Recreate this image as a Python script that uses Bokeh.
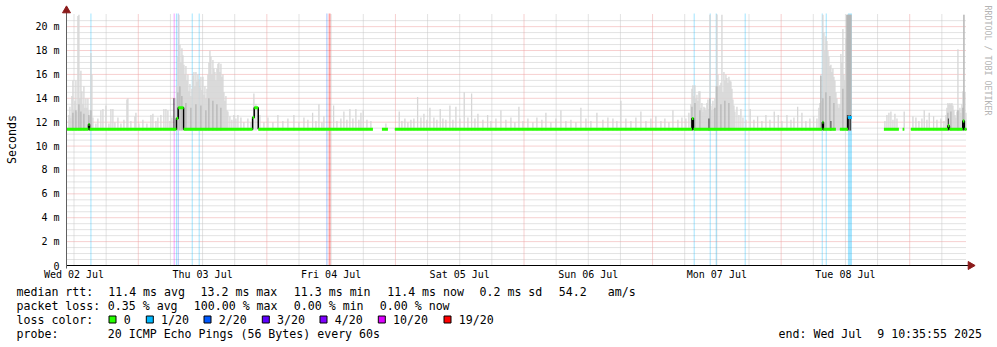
import math
from bokeh.plotting import figure
from bokeh.models import Range1d
from bokeh.core.properties import value
from bokeh.embed import file_html
from bokeh.resources import INLINE

NAN = float("nan")
MONO = value("DejaVu Sans Mono")

# ---------------- data (times in hours since Wed 02 Jul 2025 00:00) ----------------
start_h = 10.6          # Wed 02 Jul 10:36
end_h = 178.6           # Wed 09 Jul 10:36
step_h = 168 / 900      # consolidation step of the smoke samples

day_labels = ["Wed 02 Jul", "Thu 03 Jul", "Fri 04 Jul", "Sat 05 Jul", "Sun 06 Jul", "Mon 07 Jul", "Tue 08 Jul"]
label_hours = [12, 36, 60, 84, 108, 132, 156]
midnight_hours = [24, 48, 72, 96, 120, 144, 168]
y_ticks = [0, 2, 4, 6, 8, 10, 12, 14, 16, 18, 20]
y_tick_labels = ["0", "2 m", "4 m", "6 m", "8 m", "10 m", "12 m", "14 m", "16 m", "18 m", "20 m"]

# median rtt (ms) as constant segments starting at median_t
median_t = [10.6, 14.70, 14.90, 31.12, 31.45, 32.46, 45.34, 45.64, 46.39, 67.80, 69.48, 70.60, 71.90,
            127.35, 127.63, 151.70, 151.90, 154.22, 154.97, 156.46, 157.21, 163.18, 165.98, 166.67,
            166.97, 168.22, 175.13, 175.40, 177.90, 178.20]
median_v = [11.4, 11.8, 11.4, 12.3, 13.2, 11.4, 12.4, 13.2, 11.4, NAN, 11.4, NAN, 11.4,
            12.3, 11.4, 12.0, 11.4, NAN, 11.4, 12.4, NAN, 11.4, NAN, 11.4,
            NAN, 11.4, 11.7, 11.4, 12.1, 11.4]
median_loss = [0, 0, 0, 0, 0, 0, 0, 0, 0, 0, 0, 0, 0,
               0, 0, 0, 0, 0, 0, 1, 0, 0, 0, 0,
               0, 0, 0, 0, 0, 0]

# packet loss events (lost pings of 20)
loss_t = [15.16, 30.70, 31.12, 31.45, 34.07, 35.37, 59.21, 59.71, 127.77, 130.76, 131.88, 137.29, 151.67, 152.42, 156.84]
loss_n = [1, 10, 1, 2, 1, 1, 2, 19, 1, 1, 1, 1, 1, 1, 1]
loss_dur = [0.19, 0.19, 0.19, 0.19, 0.19, 0.19, 0.19, 0.37, 0.19, 0.19, 0.19, 0.19, 0.19, 0.19, 0.75]

loss_levels = ["0", "1/20", "2/20", "3/20", "4/20", "10/20", "19/20"]
loss_thresholds = [0, 1, 2, 3, 4, 10, 19]
loss_colors = ["#26ff00", "#00b8ff", "#0059ff", "#5e00ff", "#7e00ff", "#dd00ff", "#ff0000"]

# smoke: isolated samples (max ping, ms)
smoke_t = [16.09, 16.46, 17.02, 17.40, 17.96, 18.52, 18.89, 19.26, 19.64, 20.20, 20.76, 21.32, 21.88, 22.06,
           22.62, 23.37, 23.56, 24.12, 24.86, 25.61, 26.36, 26.73, 27.29, 27.66, 28.22, 28.78, 29.16, 29.53,
           29.90, 30.28,
           41.10, 41.47, 41.85, 42.22, 42.60, 43.16, 43.71, 44.46, 45.02, 45.58, 45.96, 46.70, 47.45, 48.20,
           49.13, 50.06, 50.99, 51.93, 53.05, 53.98, 54.92, 55.66, 56.54, 57.16, 57.72, 58.28, 58.65, 60.46,
           61.08, 61.82, 62.38, 62.94, 63.50, 64.06, 64.62, 65.18, 65.56, 65.99, 66.68, 67.42, 70.22, 72.71,
           73.21, 73.77, 74.33, 74.89, 75.45, 76.14, 76.76, 77.32, 77.88, 78.44, 79.18, 79.74, 80.36, 80.86,
           81.42, 82.17, 82.73, 83.29, 84.04, 84.84, 85.53, 86.22, 86.84, 87.40, 88.33, 89.21, 89.82, 90.76,
           91.69, 92.62, 93.56, 94.30, 95.05, 95.80, 96.73, 97.66, 98.41, 99.34, 100.09, 101.02, 101.96,
           102.89, 103.82, 104.76, 105.69, 106.62, 107.56, 108.49, 109.61, 110.73, 111.66, 112.60, 113.34,
           114.09, 115.02, 115.96, 116.89, 117.82, 118.76, 119.69, 120.62, 121.56, 122.30, 123.05, 123.80,
           124.73, 125.48, 126.22, 126.78,
           135.75, 136.12, 136.49, 136.87, 137.43, 138.22, 138.92, 139.61, 140.41, 141.16, 141.91, 142.71,
           143.46, 144.15, 145.08, 145.83, 146.39, 147.08, 147.88, 148.62, 149.37, 150.06, 150.68,
           163.37, 163.75, 164.12, 164.49, 164.87, 165.24, 165.62, 166.97, 168.60, 169.16, 169.72, 170.28,
           170.71, 171.21, 171.64, 172.46, 173.08, 173.82, 174.39]
smoke_top = [11.9, 12.3, 13.0, 13.1, 13.4, 11.9, 13.1, 13.1, 12.0, 12.4, 11.9, 12.2, 13.9, 14.0,
             12.1, 12.5, 12.8, 11.9, 12.2, 11.9, 12.6, 12.7, 12.1, 12.4, 12.6, 13.1, 13.1, 13.0,
             12.1, 12.4,
             12.5, 12.2, 12.6, 12.3, 12.6, 12.4, 12.0, 12.3, 12.0, 14.4, 13.5, 12.6, 12.0, 12.4,
             12.0, 12.6, 12.1, 12.3, 12.6, 12.0, 12.4, 12.2, 12.8, 12.1, 13.5, 12.0, 12.5, 13.4,
             12.1, 12.3, 12.9, 12.2, 13.1, 12.3, 13.1, 12.2, 12.8, 13.0, 12.2, 12.1, 11.9, 12.9,
             12.1, 12.3, 12.0, 12.2, 12.3, 14.1, 12.4, 12.7, 12.2, 13.2, 12.4, 12.2, 13.1, 12.3,
             12.2, 13.4, 12.2, 13.3, 12.3, 14.5, 12.4, 14.4, 12.3, 12.7, 12.2, 12.6, 12.1, 12.3,
             13.0, 12.2, 12.4, 12.0, 13.3, 12.1, 12.3, 12.0, 12.4, 12.2, 12.8, 12.0, 12.3,
             13.0, 12.1, 12.2, 12.0, 13.2, 12.3, 12.1, 12.8, 12.2, 12.4, 12.3, 12.1,
             13.8, 12.3, 12.1, 12.4, 12.9, 12.1, 12.3, 12.5, 12.1, 12.3, 12.0, 13.0,
             12.2, 12.4, 12.3, 12.8,
             13.3, 12.6, 13.1, 12.4, 12.2, 13.1, 12.2, 12.5, 12.1, 12.6, 12.2, 12.9,
             12.6, 12.1, 12.6, 12.2, 12.4, 13.3, 12.8, 12.1, 12.3, 12.5, 12.3,
             12.1, 12.6, 12.8, 12.9, 12.2, 12.7, 12.3, 12.9, 12.5, 12.4, 12.1, 12.3,
             13.0, 12.2, 12.8, 12.5, 12.2, 12.3, 12.1]

# smoke: dense bursts, one max-ping value per consolidation step
burst_wed_start = 11.05
burst_wed = [12.6, 13.3, 12.4, 14.2, 15.5, 13.0, 13.8, 15.5, 12.9, 20.9, 21.0, 14.0, 16.3, 14.6, 13.5,
             15.0, 13.2, 14.0, 13.2, 14.0, 13.0, 12.5, 17.8, 16.0, 12.4]
burst_thu_start = 30.84
burst_thu = [13.0, 14.0, 15.0, 17.5, 21.0, 18.5, 17.0, 18.2, 17.6, 16.8, 16.0, 16.7, 15.5, 16.0, 14.6,
             15.2, 14.2, 14.8, 15.9, 16.2, 15.0, 16.2, 15.4, 16.0, 15.6, 14.9, 15.8, 14.7, 15.8, 14.3,
             15.0, 14.0, 14.8, 16.0, 17.0, 18.0, 17.5, 16.0, 17.2, 16.5, 16.2, 15.5, 16.5, 16.9, 17.0,
             16.2, 16.9, 15.8, 16.0, 14.5, 13.8, 14.2, 13.0, 12.9]
burst_mon_start = 127.16
burst_mon = [13.5, 14.8, 15.1, 14.2, 15.1, 14.0, 14.3, 13.8, 14.6, 14.6, 13.2, 13.6, 12.9, 13.3, 13.2,
             13.0, 13.6, 13.9, 13.1, 21.0, 13.4, 13.0, 13.8, 13.1, 14.0, 15.0, 21.0, 16.0, 15.0, 15.1,
             15.3, 21.0, 14.5, 16.2, 15.5, 16.0, 15.7, 15.3, 15.8, 15.5, 15.4, 14.8, 13.9, 13.4, 12.9]
burst_tue_start = 151.05
burst_tue = [13.2, 13.6, 15.9, 13.8, 21.0, 19.5, 18.0, 19.2, 18.8, 18.0, 17.5, 16.7, 16.8, 16.2, 16.5,
             15.8, 15.5, 14.5, 14.0, 13.5, 13.2, 13.5, 17.7, 17.0, 19.8, 16.0, 15.5, 19.0, 21.0, 21.0,
             21.0, 21.0, 21.0]
burst_end_start = 174.76
burst_end = [12.6, 13.2, 13.6, 13.5, 13.6, 13.5, 13.6, 13.4, 13.0, 12.6, 12.4, 12.9, 18.1, 13.0, 13.2,
             12.8, 13.5, 14.6, 21.0, 14.5, 12.8]

# denser smoke (upper quartile)
mid_t = [11.80, 12.36, 12.92, 13.29, 13.85, 14.78, 15.16,
         31.40, 31.77, 32.14, 32.89, 33.82, 34.76, 35.69, 36.62, 37.18, 37.93, 38.68, 39.42,
         127.35, 127.91, 128.84, 130.70, 131.64, 132.01, 132.76, 133.50, 134.25,
         151.42, 151.80, 152.36, 153.10, 153.85, 155.53, 156.28, 156.46, 156.65, 156.84, 157.03,
         175.13, 175.69, 177.00, 177.93, 178.12]
mid_top = [12.8, 13.0, 13.5, 12.9, 12.7, 12.6, 13.0,
           14.5, 15.0, 14.2, 13.6, 13.2, 13.5, 13.4, 13.0, 14.0, 13.8, 13.5, 13.2,
           13.3, 13.6, 13.0, 14.0, 13.2, 15.0, 13.5, 13.8, 13.6,
           15.9, 14.0, 14.5, 14.2, 13.6, 14.8, 21.0, 21.0, 21.0, 21.0, 21.0,
           12.8, 12.9, 13.0, 13.2, 21.0]

# densest smoke (around the median)
dark_t = [14.87, 30.65, 127.44, 130.52, 151.89, 153.29, 156.37, 156.65, 156.93, 175.22, 178.03]
dark_top = [11.9, 14.0, 12.3, 12.3, 12.0, 12.1, 12.6, 12.6, 12.6, 12.3, 12.2]

# legend texts
stat_rtt = ["median rtt:", "11.4 ms avg", "13.2 ms max", "11.3 ms min", "11.4 ms now", "0.2 ms sd", "54.2", "am/s"]
stat_loss = ["packet loss:", "0.35 % avg", "100.00 % max", "0.00 % min", "0.00 % now"]
probe_text = ["probe:", "20 ICMP Echo Pings (56 Bytes) every 60s"]
end_text = ["end: Wed Jul", "9 10:35:55 2025"]


def color_for_loss(n):
    c = loss_colors[0]
    for thr, col in zip(loss_thresholds, loss_colors):
        if n >= thr:
            c = col
    return c


# ---------------- canvas geometry (pixels) ----------------
W, H = 997, 347
L, R, T, B = 66, 966, 13, 265            # chart area inside the canvas
y_max = 21.1
hpp = (end_h - start_h) / (R - L)        # hours per pixel
mpp = y_max / (B - T)                    # ms per pixel

p = figure(width=W, height=H, title=None,
           x_range=Range1d(start_h - L * hpp, end_h + (W - R) * hpp),
           y_range=Range1d(-(H - B) * mpp, y_max + T * mpp),
           x_axis_location=None, y_axis_location=None, min_border=0,
           output_backend="svg", toolbar_location=None,
           background_fill_color="white", border_fill_color="white", outline_line_color=None)
p.grid.visible = False
p.extra_x_ranges = {"px": Range1d(0, W)}
p.extra_y_ranges = {"px": Range1d(H, 0)}

# ---- grid (dotted) ----
six_hour_marks = [h for h in range(12, 179, 6) if h % 24 != 0]
half_marks = [k / 2 for k in range(1, 42) if k % 4 != 0]
GRID_MINOR = "#c6c6c6"
GRID_MAJOR = "#eea0a0"
p.segment(x0=six_hour_marks, x1=six_hour_marks, y0=0, y1=y_max, line_color=GRID_MINOR, line_dash="1 1", line_width=1)
p.segment(x0=start_h, x1=end_h, y0=half_marks, y1=half_marks, line_color=GRID_MINOR, line_dash="1 1", line_width=1)
p.segment(x0=midnight_hours, x1=midnight_hours, y0=0, y1=y_max, line_color=GRID_MAJOR, line_dash="1 1", line_width=1)
p.segment(x0=start_h, x1=end_h, y0=y_ticks[1:], y1=y_ticks[1:], line_color=GRID_MAJOR, line_dash="1 1", line_width=1)

# ---- loss background stripes ----
p.vbar(x=loss_t, width=loss_dur, bottom=0, top=y_max,
       fill_color=[color_for_loss(n) for n in loss_n], fill_alpha=0.36, line_color=None)

# ---- smoke ----
all_t = list(smoke_t)
all_top = list(smoke_top)
for s, vals in [(burst_wed_start, burst_wed), (burst_thu_start, burst_thu), (burst_mon_start, burst_mon),
                (burst_tue_start, burst_tue), (burst_end_start, burst_end)]:
    for i, v in enumerate(vals):
        all_t.append(s + i * step_h)
        all_top.append(v)
p.vbar(x=all_t, width=step_h * 1.3, bottom=11.3, top=all_top, fill_color="#d6d6d6", line_color=None)
p.vbar(x=mid_t, width=step_h, bottom=11.3, top=mid_top, fill_color="#acacac", line_color=None)
p.vbar(x=dark_t, width=step_h, bottom=11.3, top=dark_top, fill_color="#3c3c3c", line_color=None)

# ---- median: black steps, loss-coloured flats ----
seg_end = median_t[1:] + [end_h]
p.step(x=median_t + [end_h], y=median_v + [median_v[-1]], mode="after", line_color="black", line_width=1.5)
x0, x1, yy, cc = [], [], [], []
for t0, t1, v, n in zip(median_t, seg_end, median_v, median_loss):
    if not math.isnan(v):
        x0.append(t0); x1.append(t1); yy.append(v); cc.append(color_for_loss(n))
p.segment(x0=x0, y0=yy, x1=x1, y1=yy, line_color=cc, line_width=3)

# ---- axes ----
p.segment(x0=[start_h], x1=[end_h + 3 * hpp], y0=[0], y1=[0], line_color="black", line_width=1)
p.segment(x0=[start_h], x1=[start_h], y0=[-3 * mpp], y1=[y_max + 2 * mpp], line_color="#606060", line_width=1)
p.scatter(x=[start_h], y=[T - 3], y_range_name="px", marker="triangle", size=8,
          fill_color="#8b1a1a", line_color="#8b1a1a")
p.scatter(x=[R + 4], y=[0], x_range_name="px", marker="triangle", size=8, angle=-math.pi / 2,
          fill_color="#8b1a1a", line_color="#8b1a1a")

TICK_FS = "10px"
p.text(x=label_hours, y=[B + 9] * len(label_hours), y_range_name="px", text=day_labels,
       text_font=MONO, text_font_size=TICK_FS, text_align="center", text_baseline="middle", text_color="black")
p.text(x=[L - 7] * len(y_ticks), y=y_ticks, x_range_name="px", text=y_tick_labels,
       text_font=MONO, text_font_size=TICK_FS, text_align="right", text_baseline="middle", text_color="black")
p.text(x=[11], y=[(T + B) / 2], x_range_name="px", y_range_name="px", text=["Seconds"], angle=math.pi / 2,
       text_font=MONO, text_font_size="11.6px", text_align="center", text_baseline="middle", text_color="black")

# watermark
p.text(x=[W - 10], y=[5], x_range_name="px", y_range_name="px", text=["RRDTOOL / TOBI OETIKER"],
       angle=-math.pi / 2, text_font=MONO, text_font_size="8.3px", text_align="left",
       text_baseline="middle", text_color="#b4b4b4")

# ---- legend block ----
row_y = [291, 305, 319, 333]
lx, ly, lt = [], [], []
for x, t in zip([16, 107.7, 200, 293.3, 386.7, 479, 558.3, 607.3], stat_rtt):
    lx.append(x); ly.append(row_y[0]); lt.append(t)
for x, t in zip([16, 107.3, 193.3, 293.3, 379.3], stat_loss):
    lx.append(x); ly.append(row_y[1]); lt.append(t)
lx.append(16); ly.append(row_y[2]); lt.append("loss color:")
sq_x = [112, 149.3, 207, 265.3, 323, 381.3, 447]
for sx, lab in zip(sq_x, loss_levels):
    lx.append(sx + 11.3); ly.append(row_y[2]); lt.append(lab)
for x, t in zip([16, 107.3], probe_text):
    lx.append(x); ly.append(row_y[3]); lt.append(t)
for x, t in zip([778, 876.7], end_text):
    lx.append(x); ly.append(row_y[3]); lt.append(t)
p.text(x=lx, y=ly, text=lt, x_range_name="px", y_range_name="px",
       text_font=MONO, text_font_size="11.6px", text_baseline="middle", text_align="left", text_color="black")
p.rect(x=sq_x, y=[row_y[2]] * len(sq_x), x_range_name="px", y_range_name="px", width=7, height=7,
       fill_color=loss_colors, line_color="black", line_width=1)

open("out.html", "w").write(file_html(p, INLINE))
